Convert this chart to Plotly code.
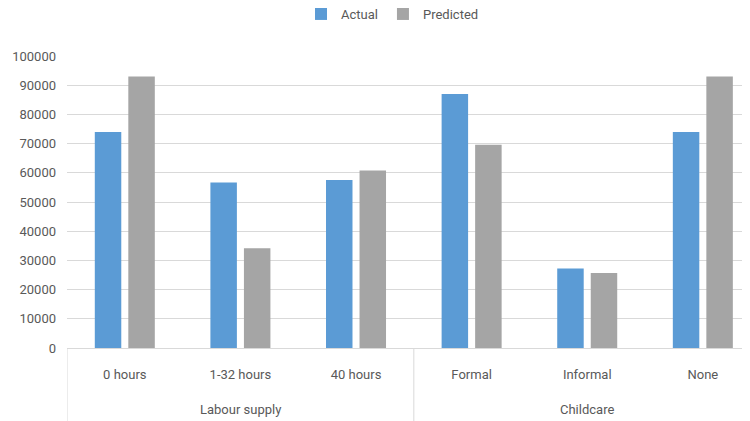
import plotly.graph_objects as go

groups = ["Labour supply", "Childcare"]
group_sizes = [3, 3]
categories = ["0 hours", "1-32 hours", "40 hours", "Formal", "Informal", "None"]
actual = [74000, 56700, 57500, 87000, 27200, 74000]
predicted = [93000, 34200, 60800, 69600, 25700, 93000]
y_ticks = list(range(0, 100001, 10000))

font_family = "Roboto, Arial"
text_color = "#595959"
grid_color = "#D9D9D9"

fig = go.Figure()
fig.add_trace(go.Bar(x=categories, y=actual, name="Actual",
                     marker=dict(color="#5B9BD5", line=dict(width=0))))
fig.add_trace(go.Bar(x=categories, y=predicted, name="Predicted",
                     marker=dict(color="#A5A5A5", line=dict(width=0))))

plot_h = 292
fig.update_layout(
    width=742, height=413,
    margin=dict(l=59, r=0, t=48, b=73, autoexpand=False),
    paper_bgcolor="white", plot_bgcolor="white",
    barmode="group", bargap=0.42, bargroupgap=0.21,
    font=dict(family=font_family, size=13, color=text_color),
    legend=dict(orientation="h", x=0.4766, xanchor="center", y=1 + 42 / plot_h,
                yanchor="middle", yref="paper", font=dict(size=13, color=text_color),
                traceorder="normal"),
    showlegend=True,
)
fig.update_yaxes(range=[0, 100000], tickvals=y_ticks, ticktext=[str(v) for v in y_ticks],
                 showgrid=True, gridcolor=grid_color, gridwidth=1, zeroline=False,
                 showline=False, ticks="", ticklabelstandoff=10, automargin=False,
                 tickfont=dict(size=13, color=text_color))
# the original plot area runs past the right edge of the picture
fig.update_xaxes(type="category", showline=True, linecolor=grid_color, linewidth=1,
                 ticks="", ticklabelstandoff=14, automargin=False,
                 range=[-0.5, 5.408],
                 tickfont=dict(size=13, color=text_color))

# group labels and dividers
start = 0
bounds = [-0.5]
for g, n in zip(groups, group_sizes):
    center = start + (n - 1) / 2
    fig.add_annotation(x=center, y=-61 / plot_h, xref="x", yref="paper", text=g,
                       showarrow=False, yanchor="middle",
                       font=dict(size=13, color=text_color))
    start += n
    bounds.append(start - 0.5)
for b in bounds:
    fig.add_shape(type="line", xref="x", yref="paper", x0=b, x1=b, y0=0, y1=-75 / plot_h,
                  line=dict(color=grid_color, width=1), layer="above")

fig.write_html("out.html")
